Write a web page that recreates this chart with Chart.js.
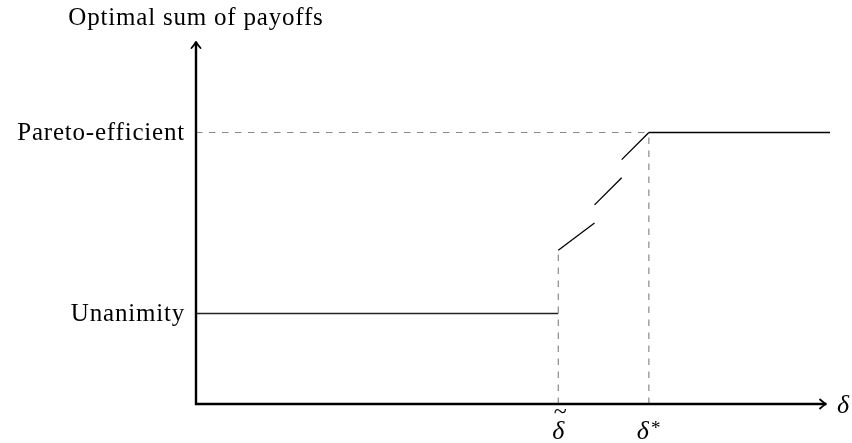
<!DOCTYPE html>
<html>
<head>
<meta charset="utf-8">
<script src="https://cdn.jsdelivr.net/npm/chart.js@4"></script>
<style>
    html, body { margin: 0; padding: 0; background: #fff; }
    #wrap { width: 852px; height: 443px; }
</style>
</head>
<body>
<div id="wrap"><canvas id="chart"></canvas></div>
<script>
// axis ranges (delta on x, sum of payoffs on y)
const xRange = [0, 7];
const yRange = [0, 4];

// payoff levels on the y axis
const levelNames = ['Unanimity', 'Pareto-efficient'];
const levelValues = [1, 3];

// thresholds on the x axis
const thresholdNames = ['tilde', 'star'];
const thresholdValues = [4, 5];

// optimal sum: flat at unanimity, then three rising pieces, then flat at pareto
const unanimityX = [0, 4];
const unanimityY = [1, 1];
const risingX = [4, 4.4, null, 4.4, 4.7, null, 4.7, 5];
const risingY = [1.7, 2.0, null, 2.2, 2.5, null, 2.7, 3.0];
const paretoX = [5, 7];
const paretoY = [3, 3];

const SERIF = '"Liberation Serif", "DejaVu Serif", serif';

function pts(xs, ys) {
    return xs.map((x, i) => (x === null ? { x: NaN, y: null } : { x, y: ys[i] }));
}

const guideStyle = {
    borderColor: '#8a8a8a',
    borderWidth: 1.2,
    borderDash: [6.5, 6.5],
    pointRadius: 0,
    showLine: true,
    fill: false,
};
const lineStyle = {
    borderColor: '#000',
    borderWidth: 1.3,
    pointRadius: 0,
    showLine: true,
    fill: false,
    spanGaps: false,
};

// axes with arrow heads plus the text labels
const axesPlugin = {
    id: 'axes',
    afterDatasetsDraw(chart) {
        const { ctx, scales } = chart;
        const x0 = scales.x.getPixelForValue(0);
        const y0 = scales.y.getPixelForValue(0);
        const yTop = scales.y.getPixelForValue(yRange[1]);
        const xEnd = scales.x.getPixelForValue(xRange[1]) - 4;

        ctx.save();
        ctx.strokeStyle = '#000';
        ctx.lineWidth = 2.4;
        ctx.lineCap = 'square';
        ctx.beginPath();
        ctx.moveTo(x0, yTop + 1);
        ctx.lineTo(x0, y0);
        ctx.lineTo(xEnd - 1, y0);
        ctx.stroke();

        // arrow heads
        ctx.lineWidth = 1.8;
        ctx.lineCap = 'round';
        ctx.lineJoin = 'round';
        ctx.beginPath();
        ctx.moveTo(x0 - 4.5, yTop + 6);
        ctx.quadraticCurveTo(x0 - 1, yTop + 2, x0, yTop);
        ctx.quadraticCurveTo(x0 + 1, yTop + 2, x0 + 4.5, yTop + 6);
        ctx.moveTo(xEnd - 6, y0 - 4.5);
        ctx.quadraticCurveTo(xEnd - 2, y0 - 1, xEnd, y0);
        ctx.quadraticCurveTo(xEnd - 2, y0 + 1, xEnd - 6, y0 + 4.5);
        ctx.stroke();

        ctx.fillStyle = '#000';
        ctx.font = `25px ${SERIF}`;
        ctx.letterSpacing = '0.8px';
        ctx.textBaseline = 'middle';

        ctx.textAlign = 'center';
        ctx.fillText('Optimal sum of payoffs', x0, 18);

        ctx.textAlign = 'right';
        levelNames.forEach((name, i) => {
            ctx.fillText(name, x0 - 11, scales.y.getPixelForValue(levelValues[i]) + 1);
        });
        ctx.letterSpacing = '0px';

        ctx.font = `italic 26px ${SERIF}`;
        ctx.textAlign = 'left';
        ctx.fillText('δ', xEnd + 11, y0 + 2);

        // threshold labels under the x axis
        ctx.textAlign = 'center';
        const tx = scales.x.getPixelForValue(thresholdValues[0]);
        ctx.fillText('δ', tx, y0 + 28);
        ctx.font = `24px ${SERIF}`;
        ctx.fillText('~', tx + 2, y0 + 9);

        const sx = scales.x.getPixelForValue(thresholdValues[1]);
        ctx.font = `italic 26px ${SERIF}`;
        ctx.fillText('δ', sx - 6, y0 + 28);
        ctx.font = `19px ${SERIF}`;
        ctx.fillText('*', sx + 7, y0 + 25);
        ctx.restore();
    },
};

new Chart(document.getElementById('chart'), {
    type: 'scatter',
    data: {
        datasets: [
            { ...guideStyle, data: pts([xRange[0], thresholdValues[1]], [levelValues[1], levelValues[1]]) },
            { ...guideStyle, data: pts([thresholdValues[0], thresholdValues[0]], [0, risingY[0]]) },
            { ...guideStyle, data: pts([thresholdValues[1], thresholdValues[1]], [0, levelValues[1]]) },
            { ...lineStyle, borderColor: '#222', data: pts(unanimityX, unanimityY) },
            { ...lineStyle, data: pts(risingX, risingY) },
            { ...lineStyle, data: pts(paretoX, paretoY) },
        ],
    },
    options: {
        responsive: true,
        maintainAspectRatio: false,
        animation: false,
        layout: { padding: { left: 196, right: 22, top: 42, bottom: 39 } },
        plugins: { legend: { display: false }, tooltip: { enabled: false } },
        scales: {
            x: { type: 'linear', min: xRange[0], max: xRange[1], display: false },
            y: { type: 'linear', min: yRange[0], max: yRange[1], display: false },
        },
    },
    plugins: [axesPlugin],
});
</script>
</body>
</html>
